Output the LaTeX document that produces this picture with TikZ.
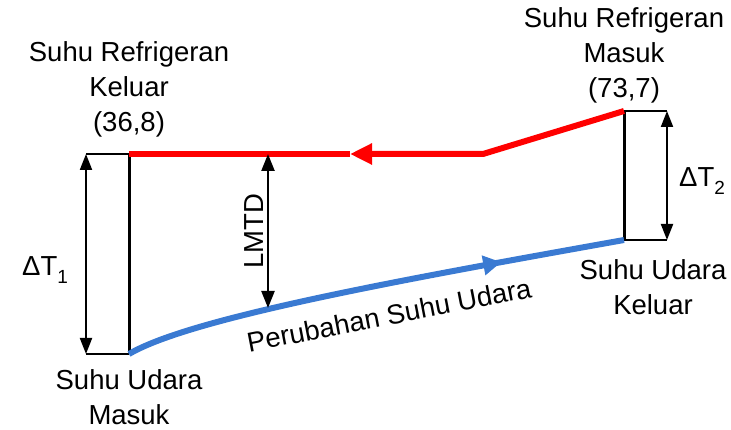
\documentclass[tikz,border=0pt]{standalone}
\usepackage{fontspec}
\setmainfont{Liberation Sans}
\usetikzlibrary{arrows.meta,decorations.markings}
\newcommand{\lowsub}[1]{\raisebox{-0.28em}{\fontsize{19}{19}\selectfont #1}}
\begin{document}
\begin{tikzpicture}[x=1pt,y=-1pt,
  lbl/.style={font=\fontsize{27.5}{35}\selectfont, align=center, inner sep=0pt},
  wall/.style={line width=3pt, black},
  guide/.style={line width=1.6pt, black},
  dim/.style={line width=2pt, black, {Triangle[length=16pt,width=12pt]}-{Triangle[length=16pt,width=12pt]}},
  refline/.style={line width=6pt, red},
  airline/.style={line width=6pt, color={rgb,255:red,58;green,122;blue,210}}]
\useasboundingbox (0,0) rectangle (731,430);

% end points of the two streams
\coordinate (LT) at (129,154);
\coordinate (LB) at (129,354);
\coordinate (RT) at (624,111);
\coordinate (RB) at (624,240);
\coordinate (K) at (483,154);
\coordinate (RA) at (350,154);

% left temperature difference
\coordinate (LT1) at (86,154);
\coordinate (LB1) at (86,354);
\draw[guide] (LT1) -- (LT);
\draw[guide] (LB1) -- (LB);
\draw[dim] (LT1) -- (LB1);
\draw[wall] (LT) -- (LB);

% right temperature difference
\coordinate (RT1) at (667,111);
\coordinate (RB1) at (667,240);
\draw[guide] (RT) -- (RT1);
\draw[guide] (RB) -- (RB1);
\draw[dim] (RT1) -- (RB1);
\draw[wall] (RT) -- (RB);

% refrigerant line
\draw[refline] (RA) -- (LT);
\draw[refline, -{Triangle[length=22pt,width=20pt]}] (RT) -- (K) -- (RA);

% air line
\draw[airline, postaction={decorate}, decoration={markings,
  mark=at position 0.755 with {\arrow{Triangle[length=18pt,width=19pt]}}}]
  (LB) .. controls (190,318) and (400,280) .. (RB);

% LMTD
\coordinate (M1) at (268,154);
\coordinate (M2) at (268,308);
\draw[line width=2.4pt, {Triangle[length=17pt,width=13pt]}-{Triangle[length=17pt,width=13pt]}] (M1) -- (M2);
\node[lbl, rotate=90] (lmtd) at (254,231) {LMTD};

% labels
\node[lbl] (dt1) at (45,270) {ΔT\lowsub{1}};
\node[lbl] (dt2) at (702,181) {ΔT\lowsub{2}};
\node[lbl] (rout) at (129,89) {Suhu Refrigeran\\Keluar\\(36,8)};
\node[lbl] (rin) at (624,55) {Suhu Refrigeran\\Masuk\\(73,7)};
\node[lbl] (aout) at (653,287) {Suhu Udara\\Keluar};
\node[lbl] (ain) at (129,397) {Suhu Udara\\Masuk};
\node[lbl, rotate=11] (chg) at (389,315) {Perubahan Suhu Udara};
\end{tikzpicture}
\end{document}
